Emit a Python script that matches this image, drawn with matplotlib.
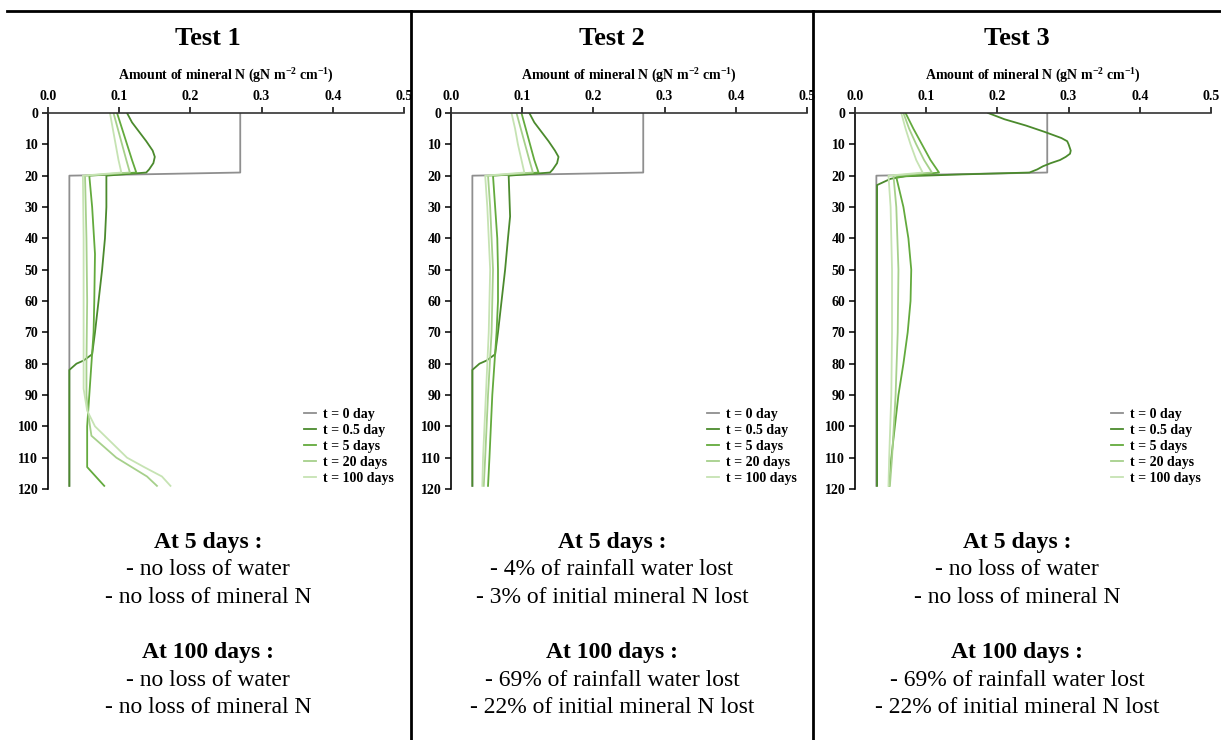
import matplotlib.pyplot as plt
from matplotlib.lines import Line2D
from matplotlib.ticker import FormatStrFormatter, MultipleLocator

plt.rcParams.update({
    "font.family": ["Liberation Serif", "DejaVu Serif"],
    "mathtext.fontset": "custom",
    "mathtext.rm": "Liberation Serif:bold",
    "mathtext.bf": "Liberation Serif:bold",
})

# ---- data (depth in cm, mineral N in gN m-2 cm-1) ----
LABELS = ["t = 0 day", "t = 0.5 day", "t = 5 days", "t = 20 days", "t = 100 days"]
COLORS = ["#8f8f8f", "#4b8a2d", "#63aa3d", "#a6d08b", "#c6e3b3"]

t0_depth = [0, 19, 20, 119]
t0_val = [0.27, 0.27, 0.03, 0.03]

# Test 1
t1_d05 = [0, 3, 6, 9, 12, 14, 16, 18, 19, 20, 30, 40, 50, 60, 70, 77, 79, 80, 82, 119]
t1_v05 = [0.111, 0.118, 0.128, 0.138, 0.147, 0.150, 0.148, 0.142, 0.138, 0.082,
          0.082, 0.080, 0.076, 0.071, 0.066, 0.062, 0.050, 0.040, 0.030, 0.030]
t1_d5 = [0, 5, 10, 15, 19, 20, 30, 45, 60, 70, 80, 90, 100, 113, 119]
t1_v5 = [0.097, 0.104, 0.111, 0.118, 0.124, 0.058, 0.062, 0.066, 0.065, 0.064,
         0.061, 0.058, 0.055, 0.055, 0.079]
t1_d20 = [0, 5, 10, 15, 19, 20, 40, 60, 80, 90, 95, 100, 103, 110, 116, 119]
t1_v20 = [0.092, 0.098, 0.104, 0.110, 0.115, 0.052, 0.054, 0.055, 0.054, 0.054,
          0.056, 0.059, 0.061, 0.096, 0.139, 0.153]
t1_d100 = [0, 5, 10, 15, 19, 20, 40, 60, 80, 88, 95, 100, 110, 113, 116, 119]
t1_v100 = [0.087, 0.091, 0.095, 0.099, 0.103, 0.049, 0.050, 0.050, 0.050, 0.050,
           0.055, 0.066, 0.111, 0.135, 0.160, 0.172]

# Test 2
t2_d05 = [0, 3, 6, 9, 12, 14, 16, 18, 19, 20, 33, 40, 50, 60, 70, 77, 79, 80, 82, 119]
t2_v05 = [0.110, 0.117, 0.127, 0.137, 0.146, 0.151, 0.149, 0.143, 0.139, 0.081,
          0.083, 0.080, 0.076, 0.071, 0.066, 0.062, 0.050, 0.040, 0.030, 0.030]
t2_d5 = [0, 5, 10, 15, 19, 20, 30, 40, 50, 60, 70, 80, 90, 100, 110, 119]
t2_v5 = [0.099, 0.105, 0.111, 0.117, 0.123, 0.059, 0.062, 0.065, 0.066, 0.066,
         0.064, 0.061, 0.058, 0.056, 0.054, 0.052]
t2_d20 = [0, 5, 10, 15, 19, 20, 30, 50, 70, 90, 110, 119]
t2_v20 = [0.092, 0.098, 0.104, 0.110, 0.115, 0.052, 0.055, 0.059, 0.057, 0.052, 0.048, 0.046]
t2_d100 = [0, 5, 10, 15, 19, 20, 30, 50, 70, 90, 110, 119]
t2_v100 = [0.085, 0.090, 0.094, 0.099, 0.103, 0.048, 0.051, 0.055, 0.053, 0.049, 0.045, 0.044]

# Test 3
t3_d05 = [0, 2, 4, 6, 8, 9, 10, 12, 13, 14, 15, 16, 17, 18, 19, 19.6, 20.2, 21, 23, 119]
t3_v05 = [0.187, 0.210, 0.240, 0.266, 0.290, 0.298, 0.300, 0.303, 0.302, 0.296,
          0.288, 0.275, 0.264, 0.256, 0.245, 0.150, 0.070, 0.050, 0.031, 0.031]
t3_d5 = [0, 5, 10, 15, 19, 20.5, 30, 40, 50, 60, 70, 80, 90, 100, 110, 119]
t3_v5 = [0.071, 0.082, 0.094, 0.106, 0.118, 0.058, 0.068, 0.075, 0.079, 0.078,
         0.074, 0.068, 0.061, 0.056, 0.051, 0.048]
t3_d20 = [0, 5, 10, 15, 19, 20, 30, 50, 70, 90, 110, 119]
t3_v20 = [0.068, 0.076, 0.086, 0.097, 0.108, 0.054, 0.058, 0.061, 0.060, 0.057, 0.052, 0.049]
t3_d100 = [0, 5, 10, 15, 19, 20, 30, 50, 70, 90, 110, 119]
t3_v100 = [0.065, 0.071, 0.078, 0.086, 0.095, 0.047, 0.050, 0.052, 0.052, 0.051, 0.048, 0.047]

TITLES = ["Test 1", "Test 2", "Test 3"]
NOTES_5 = [["- no loss of water", "- no loss of mineral N"],
           ["- 4% of rainfall water lost", "- 3% of initial mineral N lost"],
           ["- no loss of water", "- no loss of mineral N"]]
NOTES_100 = [["- no loss of water", "- no loss of mineral N"],
             ["- 69% of rainfall water lost", "- 22% of initial mineral N lost"],
             ["- 69% of rainfall water lost", "- 22% of initial mineral N lost"]]

panels = [
    [(t0_depth, t0_val), (t1_d05, t1_v05), (t1_d5, t1_v5), (t1_d20, t1_v20), (t1_d100, t1_v100)],
    [(t0_depth, t0_val), (t2_d05, t2_v05), (t2_d5, t2_v5), (t2_d20, t2_v20), (t2_d100, t2_v100)],
    [(t0_depth, t0_val), (t3_d05, t3_v05), (t3_d5, t3_v5), (t3_d20, t3_v20), (t3_d100, t3_v100)],
]

W, H = 1221, 740
fig = plt.figure(figsize=(W / 100, H / 100), dpi=100)


def fy(y):
    return 1 - y / H


axes_left = [48, 451, 855]
col_center = [208, 612, 1017]
BODY = 17

for i, series in enumerate(panels):
    ax = fig.add_axes([axes_left[i] / W, fy(489), 356 / W, 376 / H])
    for (d, v), c, lab in zip(series, COLORS, LABELS):
        ax.plot(v, d, color=c, lw=1.3, label=lab)
    ax.set_xlim(0, 0.5)
    ax.set_ylim(120, 0)
    ax.xaxis.set_major_locator(MultipleLocator(0.1))
    ax.xaxis.set_major_formatter(FormatStrFormatter("%.1f"))
    ax.yaxis.set_major_locator(MultipleLocator(10))
    ax.xaxis.tick_top()
    ax.xaxis.set_label_position("top")
    ax.spines["right"].set_visible(False)
    ax.spines["bottom"].set_visible(False)
    ax.spines["top"].set_color("#333333")
    ax.spines["top"].set_linewidth(1.2)
    ax.spines["left"].set_linewidth(1.2)
    ax.tick_params(axis="both", direction="out", length=4, width=1.1,
                   labelsize=10, pad=3)
    for lbl in ax.get_xticklabels() + ax.get_yticklabels():
        lbl.set_fontweight("bold")
    ax.set_xlabel(r"Amount of mineral N (gN m$^{-2}$ cm$^{-1}$)",
                  fontsize=10, fontweight="bold", labelpad=8)
    ax.legend(loc="lower right", bbox_to_anchor=(1.0, -0.015), frameon=False,
              prop={"size": 10, "weight": "bold"}, handlelength=0.85,
              handletextpad=0.55, labelspacing=0.22, borderpad=0.2)

    cx = col_center[i] / W
    fig.text(cx, fy(45), TITLES[i], ha="center", va="baseline",
             fontsize=19, fontweight="bold")
    fig.text(cx, fy(548), "At 5 days :", ha="center", va="baseline",
             fontsize=BODY, fontweight="bold")
    fig.text(cx, fy(575), NOTES_5[i][0], ha="center", va="baseline", fontsize=BODY)
    fig.text(cx, fy(603), NOTES_5[i][1], ha="center", va="baseline", fontsize=BODY)
    fig.text(cx, fy(658), "At 100 days :", ha="center", va="baseline",
             fontsize=BODY, fontweight="bold")
    fig.text(cx, fy(686), NOTES_100[i][0], ha="center", va="baseline", fontsize=BODY)
    fig.text(cx, fy(713), NOTES_100[i][1], ha="center", va="baseline", fontsize=BODY)

# frame lines of the table
fig.lines.append(Line2D([7 / W, 1], [fy(11), fy(11)], color="black", lw=2,
                        transform=fig.transFigure))
for x in [411, 813]:
    fig.lines.append(Line2D([x / W, x / W], [fy(11), 0], color="black", lw=2,
                            transform=fig.transFigure))

fig.savefig("out.png", dpi=100)
